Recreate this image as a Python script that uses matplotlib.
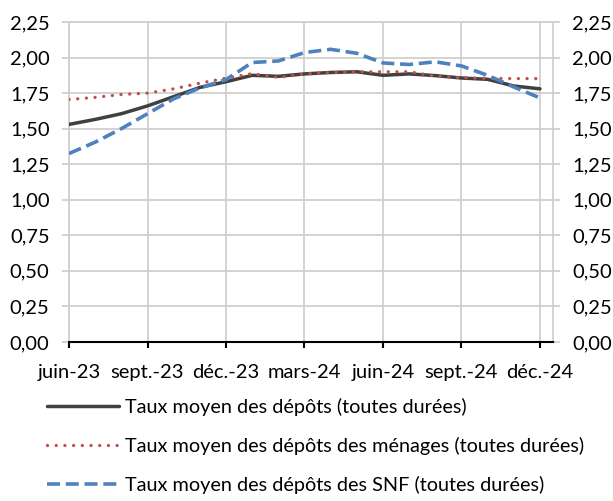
import numpy as np
import matplotlib
matplotlib.use("Agg")
from matplotlib import pyplot as plt
from matplotlib.ticker import FuncFormatter

plt.rcParams['font.family'] = ['Lato', 'DejaVu Sans']

months = ['juin-23', 'juil.-23', 'août-23', 'sept.-23', 'oct.-23', 'nov.-23', 'déc.-23',
          'janv.-24', 'févr.-24', 'mars-24', 'avr.-24', 'mai-24', 'juin-24', 'juil.-24',
          'août-24', 'sept.-24', 'oct.-24', 'nov.-24', 'déc.-24']
taux_total = [1.53, 1.565, 1.605, 1.66, 1.725, 1.79, 1.83, 1.875, 1.868, 1.885, 1.895, 1.90,
              1.875, 1.885, 1.873, 1.856, 1.847, 1.80, 1.78]
taux_menages = [1.705, 1.72, 1.74, 1.75, 1.78, 1.82, 1.855, 1.887, 1.86, 1.885, 1.895, 1.90,
                1.90, 1.90, 1.87, 1.858, 1.854, 1.852, 1.852]
taux_snf = [1.325, 1.405, 1.50, 1.605, 1.71, 1.786, 1.845, 1.965, 1.976, 2.035, 2.058, 2.03,
            1.962, 1.951, 1.97, 1.941, 1.875, 1.793, 1.716]
labels = ['Taux moyen des dépôts (toutes durées)',
          'Taux moyen des dépôts des ménages (toutes durées)',
          'Taux moyen des dépôts des SNF (toutes durées)']

grid_col = '#D0D0D0'
fs = 14.5

fig = plt.figure(figsize=(6.13, 5.01), dpi=100)
ax = fig.add_axes([0.1126, 0.3174, 0.7896, 0.6387])

x = np.arange(len(months))
l1, = ax.plot(x, taux_total, color='#404040', lw=2.5, solid_capstyle='round', zorder=3)
l2, = ax.plot(x, taux_menages, color='#C0504D', lw=2.4, linestyle=(0, (0.01, 2.6)),
              dash_capstyle='round', zorder=4)
l3, = ax.plot(x, taux_snf, color='#4F81BD', lw=2.6, linestyle=(0, (3.6, 1.6)), zorder=5)

ax.set_xlim(0, 18.5)
ax.set_ylim(0, 2.25)
ax.set_yticks(np.arange(0, 2.26, 0.25))
ax.yaxis.set_major_formatter(FuncFormatter(lambda v, p: f"{v:.2f}".replace('.', ',')))
ax.set_xticks(x[::3])
ax.set_xticklabels(months[::3])

ax.grid(True, color=grid_col, lw=1.3)
ax.set_axisbelow(True)
for side in ['left', 'right', 'top']:
    ax.spines[side].set_color(grid_col)
    ax.spines[side].set_linewidth(1.3)
ax.spines['bottom'].set_color('black')
ax.spines['bottom'].set_linewidth(1.5)
ax.spines['bottom'].set_zorder(6)

ax.tick_params(axis='y', left=True, right=True, labelleft=True, labelright=True,
               length=5, width=1.3, color=grid_col, pad=9, labelsize=fs, labelcolor='black')
ax.tick_params(axis='x', direction='out', length=4, width=1.5, color='black',
               pad=12, labelsize=fs)

fig.legend([l1, l2, l3], labels, loc='upper left', bbox_to_anchor=(0.076, 0.205),
           frameon=False, fontsize=14.3, handlelength=3.65, handletextpad=0.3,
           labelspacing=1.05, borderpad=0, borderaxespad=0)

fig.savefig('out.png', dpi=100)
